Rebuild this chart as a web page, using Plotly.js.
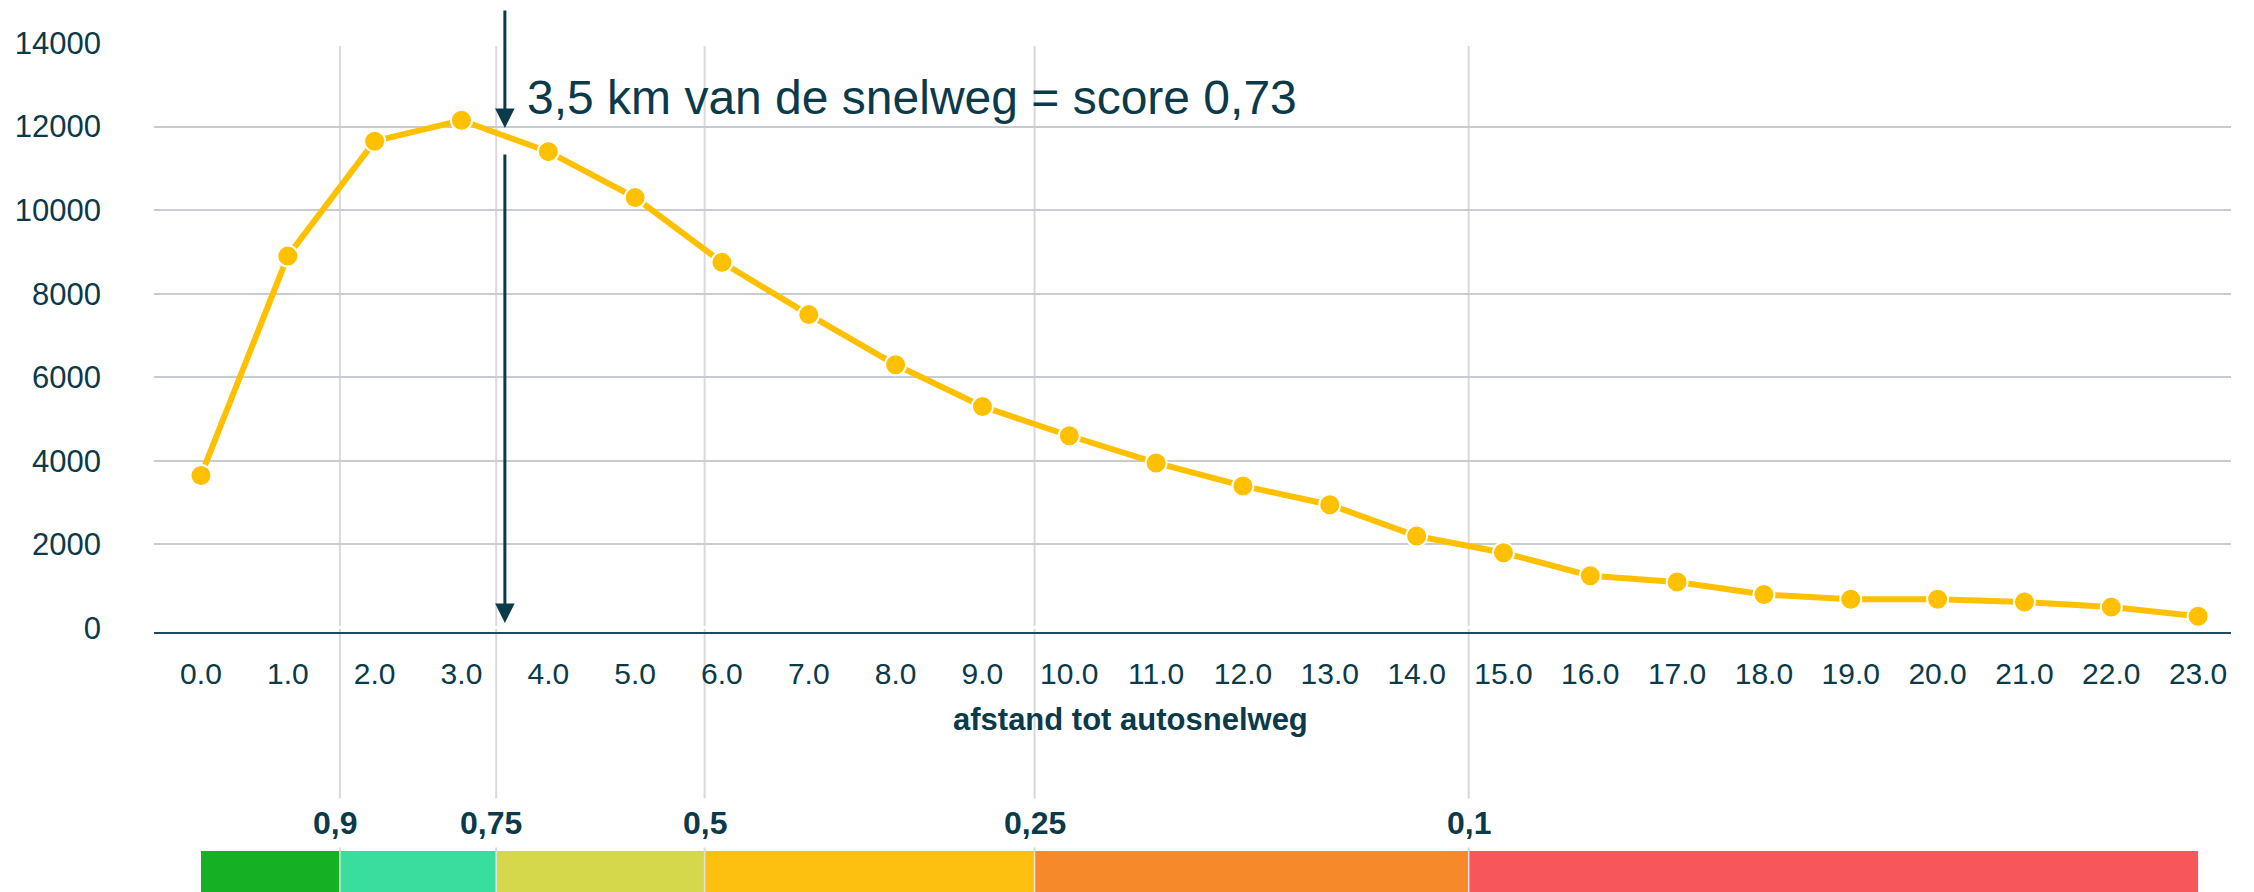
<!DOCTYPE html>
<html>
<head>
<meta charset="utf-8">
<script src="https://cdn.plot.ly/plotly-3.0.1.min.js"></script>
<style>html,body{margin:0;padding:0;background:#fff;}#chart{width:2254px;height:892px;}</style>
</head>
<body>
<div id="chart"></div>
<script>
// ---- data ----
const distances = [0,1,2,3,4,5,6,7,8,9,10,11,12,13,14,15,16,17,18,19,20,21,22,23];
const tickLabels = ["0.0","1.0","2.0","3.0","4.0","5.0","6.0","7.0","8.0","9.0","10.0","11.0","12.0","13.0","14.0","15.0","16.0","17.0","18.0","19.0","20.0","21.0","22.0","23.0"];
const counts = [3650,8900,11650,12150,11400,10300,8750,7500,6300,5300,4600,3950,3400,2950,2200,1800,1250,1100,800,690,690,620,500,280];
const yTicks = [0,2000,4000,6000,8000,10000,12000,14000];
const yTickLabels = ["0","2000","4000","6000","8000","10000","12000","14000"];
// score thresholds (km position) and labels
const scoreBreaks = [1.6, 3.4, 5.8, 9.6, 14.6];
const scoreLabels = ["0,9","0,75","0,5","0,25","0,1"];
const bandEdges = [0, 1.6, 3.4, 5.8, 9.6, 14.6, 23];
const bandColors = ["#16B025","#39DE9E","#D4D84A","#FDC010","#F68A2A","#F7575A"];
const markerKm = 3.5;
const markerText = "3,5 km van de snelweg = score 0,73";
const xTitle = "afstand tot autosnelweg";

const dark = "#0B3A4A";
const font = "Arial, 'Liberation Sans', sans-serif";

const shapes = [];
for (let i = 0; i < bandColors.length; i++) {
  shapes.push({type:'rect', xref:'x', yref:'paper', x0:bandEdges[i], x1:bandEdges[i+1],
    y0:-0.372, y1:-0.46, fillcolor:bandColors[i], line:{width:0}, layer:'above'});
}
scoreBreaks.forEach(b => {
  shapes.push({type:'line', xref:'x', yref:'paper', x0:b, x1:b, y0:-0.46, y1:0.995,
    line:{color:'#D9D9D9', width:2}, layer:'below'});
  shapes.push({type:'line', xref:'x', yref:'paper', x0:b, x1:b, y0:-0.46, y1:-0.372,
    line:{color:'#E2E2E2', width:1.5}, layer:'above'});
});

const annotations = [];
scoreLabels.forEach((t, i) => {
  annotations.push({xref:'x', yref:'paper', x:scoreBreaks[i], y:-0.325, text:'<b>'+t+'</b>',
    showarrow:false, font:{family:font, size:32, color:dark}, bgcolor:'#ffffff', borderpad:6,
    xanchor:'center', yanchor:'middle', xshift:(i < 2 ? -5 : 0)});
});
annotations.push({xref:'paper', yref:'paper', x:0.47, y:-0.149, text:'<b>'+xTitle+'</b>',
  showarrow:false, font:{family:font, size:31, color:dark}, xanchor:'center', yanchor:'middle'});
annotations.push({xref:'x', yref:'y', x:3.73, y:12684, text:markerText, showarrow:false,
  font:{family:font, size:48, color:dark}, xanchor:'left', yanchor:'middle'});
// arrows
annotations.push({xref:'x', yref:'y', x:markerKm, y:11966, text:'', showarrow:true,
  ax:0, ay:-119, arrowhead:2, arrowsize:1.3, arrowwidth:3, arrowcolor:dark, standoff:0});
annotations.push({xref:'x', yref:'y', x:markerKm, y:120, text:'', showarrow:true,
  ax:0, ay:-470, arrowhead:2, arrowsize:1.3, arrowwidth:3, arrowcolor:dark, standoff:0});

const trace = {
  x: distances, y: counts, type:'scatter', mode:'lines+markers',
  line:{color:'#FFC000', width:6},
  marker:{color:'#FFC000', size:21, line:{color:'#ffffff', width:2}},
  cliponaxis:false, hoverinfo:'skip'
};

const layout = {
  width:2254, height:892,
  margin:{l:154, r:23, t:43, b:260},
  paper_bgcolor:'#ffffff', plot_bgcolor:'#ffffff',
  showlegend:false,
  font:{family:font, color:dark},
  xaxis:{
    range:[-0.541, 23.379], tickvals:distances, ticktext:tickLabels,
    showgrid:false, zeroline:false, showline:true, linecolor:'#1D4B5E', linewidth:2,
    ticks:'', ticklabelstandoff:14, tickfont:{family:font, size:30, color:dark}
  },
  yaxis:{
    range:[-96, 14000], tickvals:yTicks, ticktext:yTickLabels, showgrid:true, gridcolor:'#C8CBD0', gridwidth:2,
    zeroline:true, zerolinecolor:'#ffffff', zerolinewidth:3, showline:false,
    ticks:'', ticklabelstandoff:52, tickfont:{family:font, size:31, color:dark}
  },
  shapes:shapes,
  annotations:annotations
};

Plotly.newPlot('chart', [trace], layout, {staticPlot:true, displayModeBar:false});
</script>
</body>
</html>
